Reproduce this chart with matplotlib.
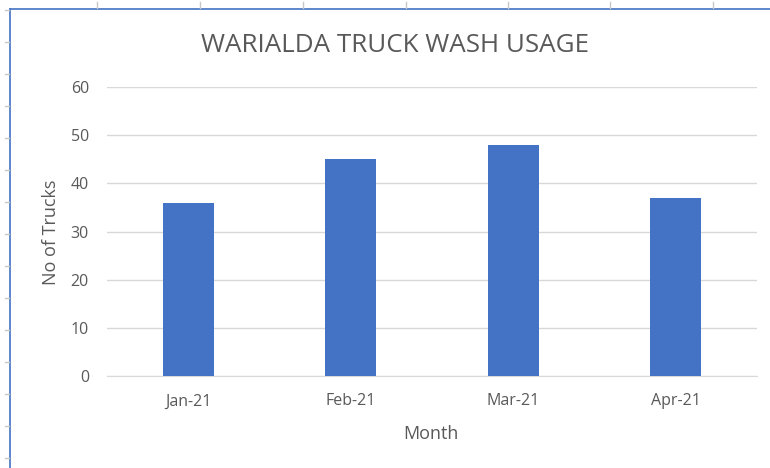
import matplotlib.pyplot as plt
from matplotlib.lines import Line2D

# Chart data
months = ['Jan-21', 'Feb-21', 'Mar-21', 'Apr-21']
trucks = [36, 45, 48, 37]
y_ticks = [0, 10, 20, 30, 40, 50, 60]

text_grey = '#595959'
plt.rcParams['font.family'] = ['Open Sans', 'DejaVu Sans']

fig = plt.figure(figsize=(7.7, 4.68), dpi=100)
W, H = 770, 468

# plot area in pixels: x 107..757, y 87..376
ax = fig.add_axes([107 / W, 1 - 376 / H, 650 / W, (376 - 87) / H])
x_pos = list(range(len(months)))
ax.bar(x_pos, trucks, width=0.315, color='#4472c4', zorder=3)
ax.set_xlim(-0.5, len(months) - 0.5)
ax.set_ylim(0, 60)
ax.set_yticks(y_ticks)
ax.set_xticks(x_pos)
ax.set_xticklabels(months)
ax.grid(axis='y', color='#d9d9d9', linewidth=1, zorder=0)
for side in ['top', 'right', 'left']:
    ax.spines[side].set_visible(False)
ax.spines['bottom'].set_color('#d9d9d9')
ax.tick_params(axis='both', length=0, colors=text_grey, labelsize=11.5)
ax.tick_params(axis='y', pad=13)
ax.tick_params(axis='x', pad=12.5)
ax.set_ylabel('No of Trucks', color=text_grey, fontsize=13)
ax.set_xlabel('Month', color=text_grey, fontsize=13)
ax.yaxis.set_label_coords(-0.086, 0.498)
ax.xaxis.set_label_coords(0.498, -0.2)
ax.xaxis.label.set_va('center')
ax.yaxis.label.set_va('center')

fig.text(395 / W, 1 - 46 / H, 'WARIALDA TRUCK WASH USAGE', color=text_grey,
         fontsize=18.7, ha='center', va='center')

# worksheet edges behind the chart
blue = '#4472c4'
fig.add_artist(Line2D([10 / W, 10 / W], [0, 1 - 9 / H], color=blue, linewidth=1.2))
fig.add_artist(Line2D([10 / W, 1], [1 - 9 / H, 1 - 9 / H], color=blue, linewidth=1.2))
for yy in range(10, H, 32):
    fig.add_artist(Line2D([5 / W, 9 / W], [1 - yy / H, 1 - yy / H], color='#c8c8c8', linewidth=1))
for xx in [97, 200, 303, 406, 508, 610, 713]:
    fig.add_artist(Line2D([xx / W, xx / W], [1 - 2 / H, 1 - 8 / H], color='#c8c8c8', linewidth=1))

fig.savefig('out.png', dpi=100)
